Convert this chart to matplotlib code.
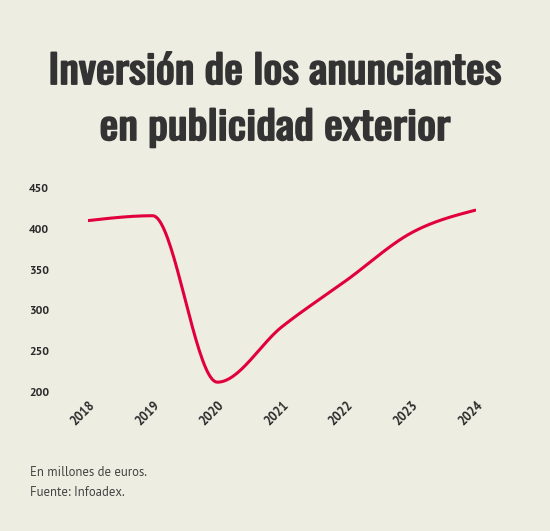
import matplotlib
matplotlib.use("Agg")
import matplotlib.pyplot as plt
import matplotlib.patheffects as pe
from matplotlib.transforms import Affine2D
import numpy as np

years = [2018, 2019, 2020, 2021, 2022, 2023, 2024]
inversion = [410, 416, 212, 280, 337, 395, 423]
y_ticks = [200, 250, 300, 350, 400, 450]

BG = "#EDEDE2"
RED = "#E2003C"
DARK = "#2B2B2B"
TITLE = "#333333"


def monotone_curve(x, y, n=40):
	""" Monotone cubic (Fritsch-Carlson) like d3.curveMonotoneX """
	x = np.asarray(x, float)
	y = np.asarray(y, float)
	h = np.diff(x)
	d = np.diff(y) / h
	m = np.zeros_like(y)
	for i in range(1, len(x) - 1):
		if d[i - 1] * d[i] <= 0:
			m[i] = 0
		else:
			m[i] = (np.sign(d[i - 1]) + np.sign(d[i])) * min(abs(d[i - 1]), abs(d[i]), 0.5 * abs((h[i - 1] * d[i] + h[i] * d[i - 1]) / (h[i - 1] + h[i])))
	m[0] = (3 * d[0] - m[1]) / 2
	m[-1] = (3 * d[-1] - m[-2]) / 2
	xs, ys = [], []
	for i in range(len(x) - 1):
		t = np.linspace(0, 1, n)
		h00 = 2 * t**3 - 3 * t**2 + 1
		h10 = t**3 - 2 * t**2 + t
		h01 = -2 * t**3 + 3 * t**2
		h11 = t**3 - t**2
		xs.append(x[i] + t * h[i])
		ys.append(h00 * y[i] + h10 * h[i] * m[i] + h01 * y[i + 1] + h11 * h[i] * m[i + 1])
	return np.concatenate(xs), np.concatenate(ys)


class BoldStretch(pe.AbstractPathEffect):
	""" Oswald only ships one weight here: widen it a little and add an outline """
	def __init__(self, sx, linewidth, color):
		super().__init__()
		self.sx = sx
		self.linewidth = linewidth
		self.color = color

	def draw_path(self, renderer, gc, tpath, affine, rgbFace=None):
		ext = tpath.get_extents()
		mid = (ext.x0 + ext.x1) / 2
		stretch = Affine2D().translate(-mid, 0).scale(self.sx, 1).translate(mid, 0) + affine
		gc0 = renderer.new_gc()
		gc0.copy_properties(gc)
		gc0.set_linewidth(self.linewidth)
		gc0.set_foreground(self.color)
		gc0.set_joinstyle("round")
		renderer.draw_path(gc0, tpath, stretch, rgbFace)
		gc0.restore()


fig = plt.figure(figsize=(5.5, 5.31), dpi=100, facecolor=BG)
ax = fig.add_axes([0.16, 0.2618, 0.7055, 0.3842])
ax.set_facecolor(BG)

cx, cy = monotone_curve(years, inversion)
ax.plot(cx, cy, color=RED, linewidth=2.2, solid_capstyle="butt")

ax.set_xlim(years[0], years[-1])
ax.set_ylim(y_ticks[0], y_ticks[-1])
ax.set_xticks(years)
ax.set_xticklabels([str(y) for y in years], rotation=45, ha="right", rotation_mode="anchor",
	fontfamily="PT Sans", fontweight="bold", fontsize=9, color=DARK)
ax.set_yticks(y_ticks)
ax.set_yticklabels([str(v) for v in y_ticks], fontfamily="PT Sans", fontweight="bold", fontsize=8.5, color=DARK)
ax.tick_params(axis="y", length=0, pad=28)
ax.tick_params(axis="x", length=0, pad=5)
for s in ax.spines.values():
	s.set_visible(False)

bold = [BoldStretch(1.145, 1.35, TITLE)]
fig.text(0.5, 1 - 84 / 531, "Inversión de los anunciantes", ha="center", va="baseline",
	fontfamily="Oswald", fontsize=28, color=TITLE, path_effects=bold)
fig.text(0.5, 1 - 140 / 531, "en publicidad exterior", ha="center", va="baseline",
	fontfamily="Oswald", fontsize=28, color=TITLE, path_effects=bold)

fig.text(30 / 550, 1 - 476 / 531, "En millones de euros.", ha="left", va="baseline",
	fontfamily="PT Sans", fontsize=9.2, color="#444444")
fig.text(30 / 550, 1 - 496 / 531, "Fuente: Infoadex.", ha="left", va="baseline",
	fontfamily="PT Sans", fontsize=9.2, color="#444444")

fig.savefig("out.png", facecolor=BG)
